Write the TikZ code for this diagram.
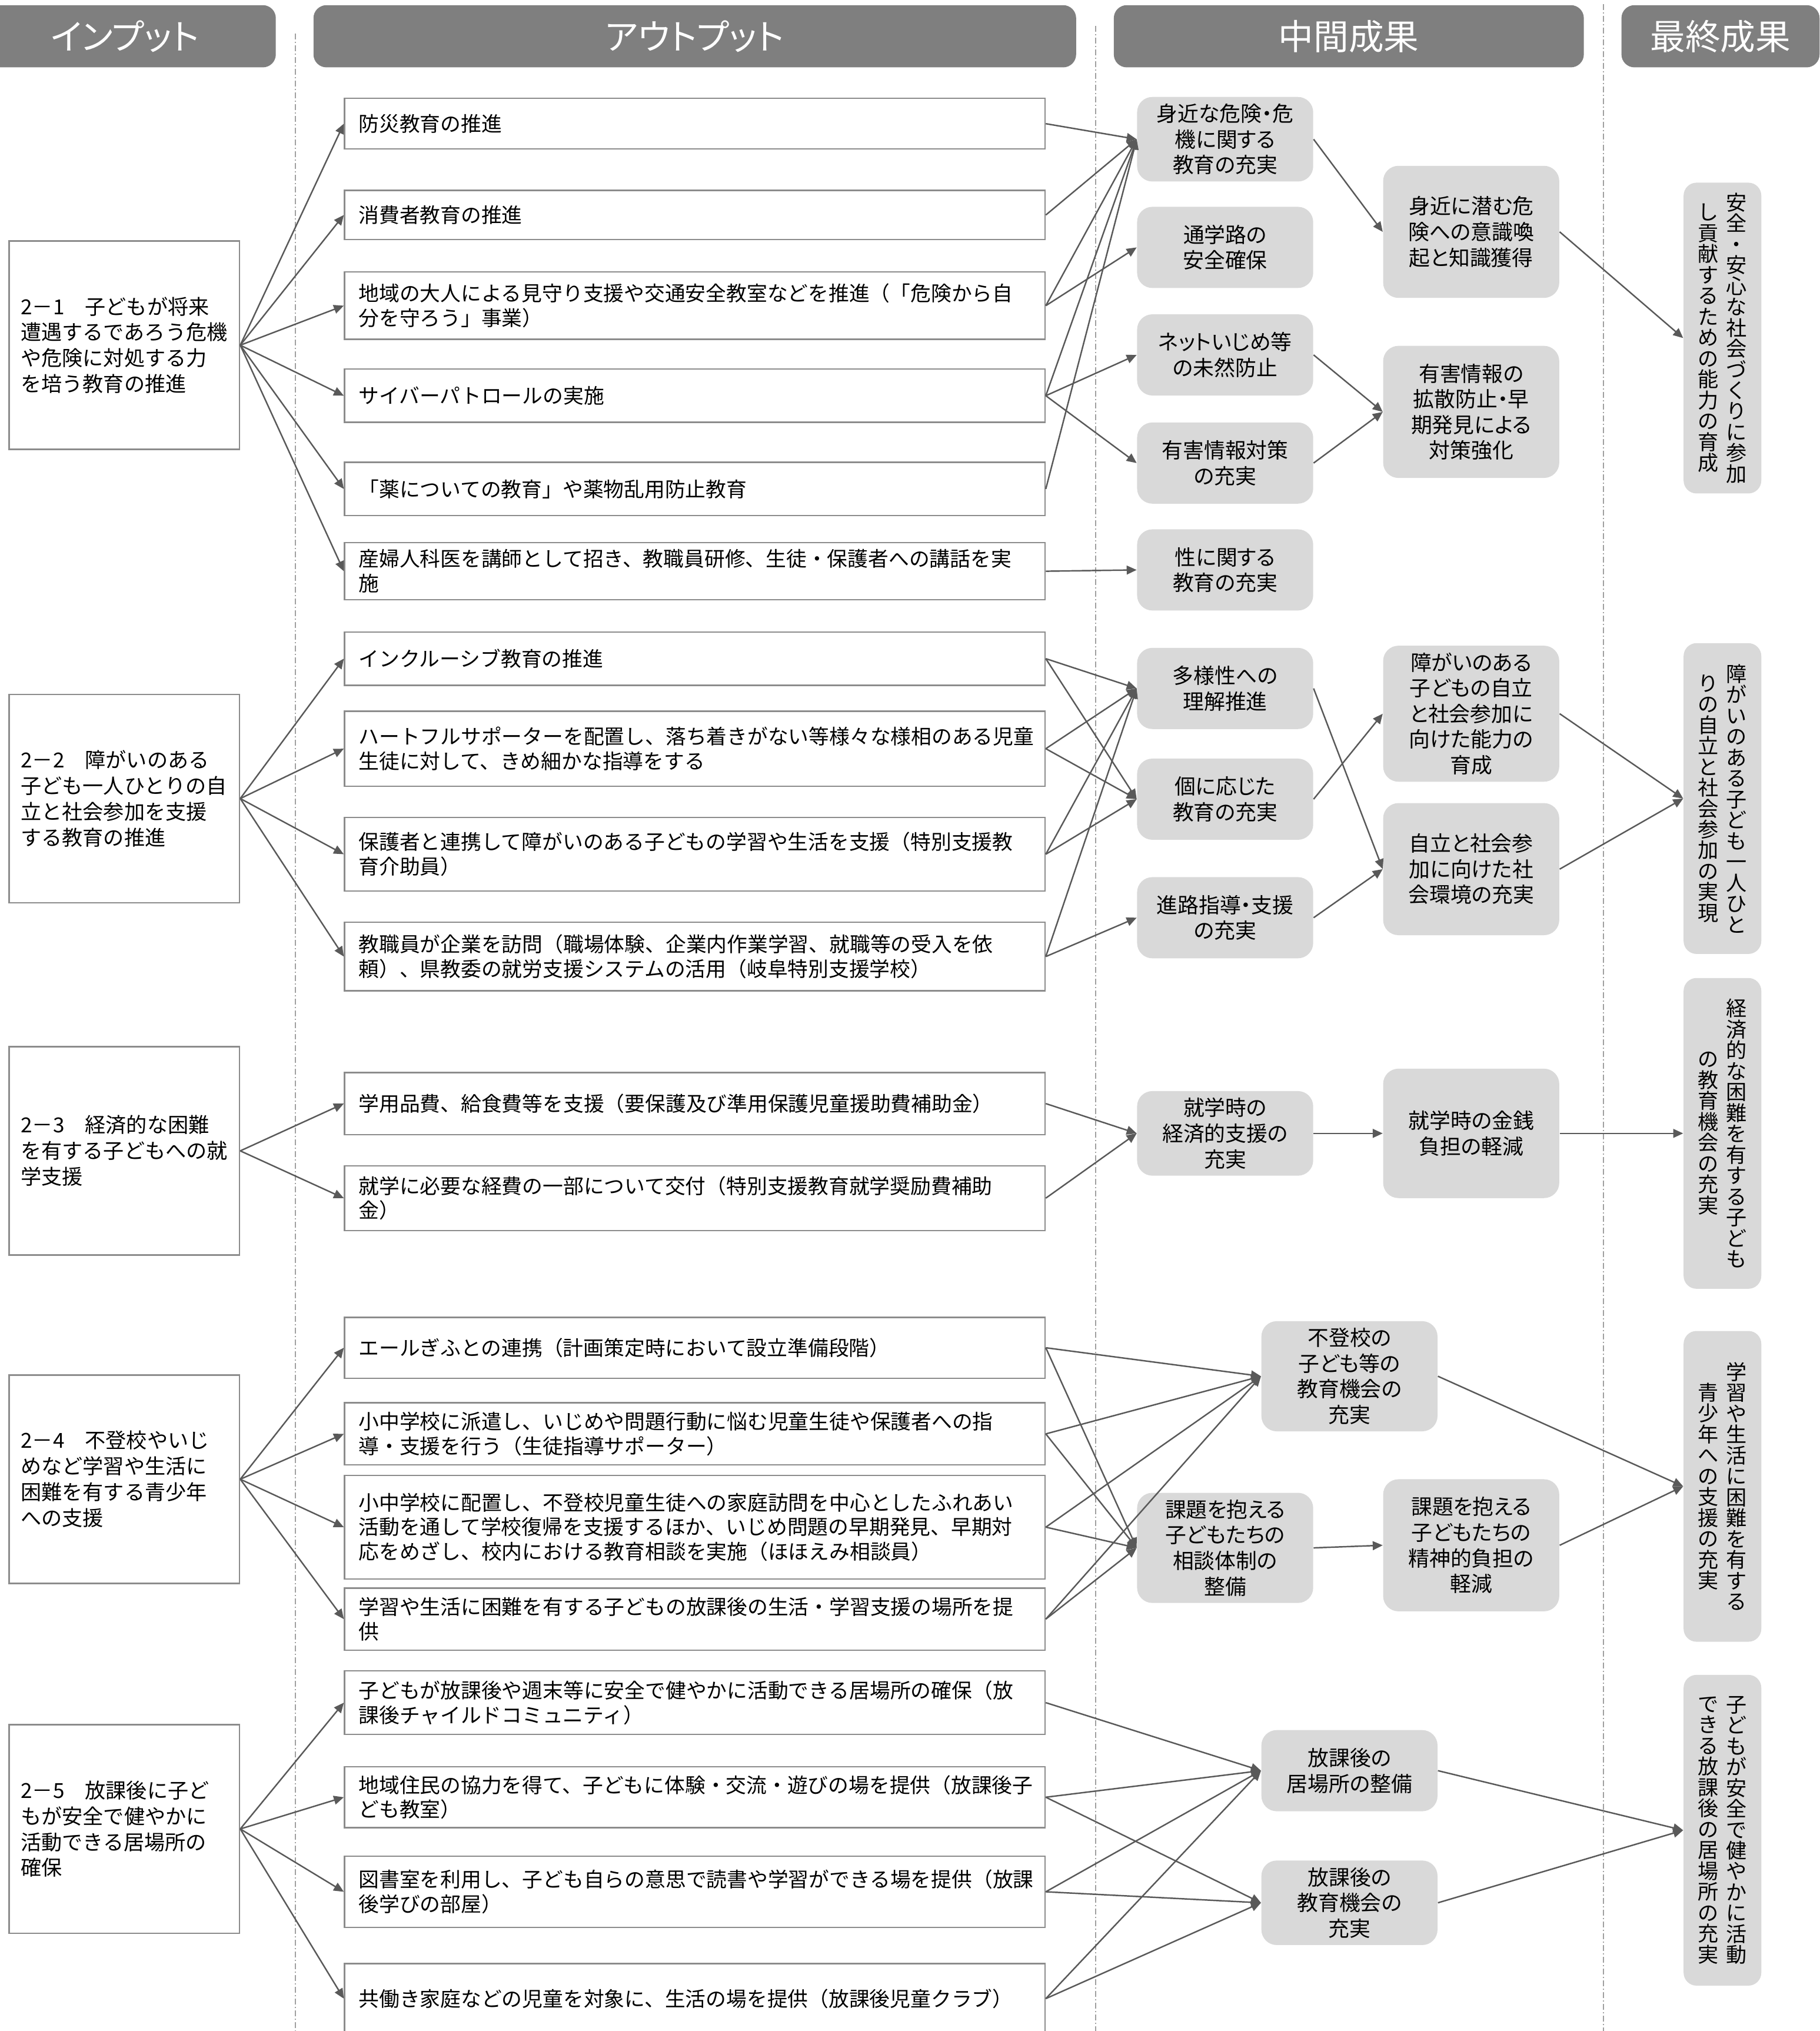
\documentclass[tikz,border=0pt]{standalone}
\usepackage{fontspec}
\setmainfont{Noto Sans CJK JP}
\newfontfamily\propfont[RawFeature=+palt]{Noto Sans CJK JP}
\usepackage{xcolor}
\usetikzlibrary{positioning,arrows.meta}

\definecolor{headgray}{HTML}{7F7F7F}
\definecolor{boxgray}{HTML}{D9D9D9}
\definecolor{linegray}{HTML}{595959}
\definecolor{framegray}{HTML}{8C8C8C}
\definecolor{sepgray}{HTML}{A0A0A0}

\newcommand\tatechars[1]{\ifx\relax#1\else\hbox to 1em{\hss#1\hss}\expandafter\tatechars\fi}
\newcommand\tatecol[1]{$\vcenter{\baselineskip=1.01em\lineskiplimit=-\maxdimen\tatechars#1\relax}$}

\begin{document}
\begin{tikzpicture}[x=0.022014cm, y=-0.022014cm,
  head/.style={fill=headgray, text=white, rounded corners=0.22cm, minimum height=1.057cm, font=\propfont\fontsize{17pt}{20pt}\selectfont},
  inbox/.style={draw=framegray, line width=0.7pt, text width=3.518cm, inner xsep=0.2cm, minimum height=3.544cm, align=left, font=\fontsize{10pt}{12.5pt}\selectfont},
  outbox/.style={draw=framegray, line width=0.7pt, text width=11.43cm, inner xsep=0.24cm, align=left, font=\fontsize{9.9pt}{11.9pt}\selectfont},
  midbox/.style={fill=boxgray, rounded corners=0.26cm, minimum width=2.994cm, minimum height=1.38cm, align=center, font=\propfont\fontsize{10.2pt}{12.4pt}\selectfont},
  endbox/.style={fill=boxgray, rounded corners=0.22cm, minimum width=1.321cm, minimum height=5.283cm, inner sep=0pt, font=\fontsize{10pt}{10pt}\selectfont},
  arr/.style={linegray, line width=0.7pt, -{Triangle[length=1.7mm, width=1.5mm]}},
  sep/.style={sepgray, line width=0.6pt, dash pattern=on 1mm off 0.4mm on 0.2mm off 0.4mm}]

\clip (0,0) rectangle (1405,1568);

\draw[sep] (228,26) -- (228,1568);
\draw[sep] (846,20) -- (846,1568);
\draw[sep] (1238,3) -- (1238,1568);

\node[head, minimum width=5.129cm] (hin) at (96.5,28) {インプット};
\node[head, minimum width=12.966cm] (hout) at (536.5,28) {アウトプット};
\node[head, minimum width=7.991cm] (hmid) at (1041.5,28) {中間成果};
\node[head, minimum width=3.368cm] (hend) at (1328.5,28) {最終成果};

\node[inbox] (in1) at (96,266.5) {2－1　子どもが将来\\遭遇するであろう危機\\や危険に対処する力\\を培う教育の推進};
\node[inbox] (in2) at (96,616.5) {2－2　障がいのある\\子ども一人ひとりの自\\立と社会参加を支援\\する教育の推進};
\node[inbox] (in3) at (96,888.5) {2－3　経済的な困難\\を有する子どもへの就\\学支援};
\node[inbox] (in4) at (96,1142) {2－4　不登校やいじ\\めなど学習や生活に\\困難を有する青少年\\への支援};
\node[inbox] (in5) at (96,1412) {2－5　放課後に子ど\\もが安全で健やかに\\活動できる居場所の\\確保};

\node[outbox, minimum height=0.859cm] (o1) at (536.5,95.5) {防災教育の推進};
\node[outbox, minimum height=0.837cm] (o2) at (536.5,166) {消費者教育の推進};
\node[outbox, minimum height=1.145cm] (o3) at (536.5,236) {地域の大人による見守り支援や交通安全教室などを推進（「危険から自\\分を守ろう」事業）};
\node[outbox, minimum height=0.903cm] (o4) at (536.5,305.5) {サイバーパトロールの実施};
\node[outbox, minimum height=0.903cm] (o5) at (536.5,377.5) {「薬についての教育」や薬物乱用防止教育};
\node[outbox, minimum height=0.925cm] (o6) at (536.5,441) {産婦人科医を講師として招き、教職員研修、生徒・保護者への講話を実\\施};
\node[outbox, minimum height=0.903cm] (o7) at (536.5,508.5) {インクルーシブ教育の推進};
\node[outbox, minimum height=1.277cm] (o8) at (536.5,578) {ハートフルサポーターを配置し、落ち着きがない等様々な様相のある児童\\生徒に対して、きめ細かな指導をする};
\node[outbox, minimum height=1.255cm] (o9) at (536.5,659.5) {保護者と連携して障がいのある子どもの学習や生活を支援（特別支援教\\育介助員）};
\node[outbox, minimum height=1.167cm] (o10) at (536.5,738.5) {教職員が企業を訪問（職場体験、企業内作業学習、就職等の受入を依\\頼）、県教委の就労支援システムの活用（岐阜特別支援学校）};
\node[outbox, minimum height=1.057cm] (o11) at (536.5,852) {学用品費、給食費等を支援（要保護及び準用保護児童援助費補助金）};
\node[outbox, minimum height=1.101cm] (o12) at (536.5,925) {就学に必要な経費の一部について交付（特別支援教育就学奨励費補助\\金）};
\node[outbox, minimum height=1.035cm] (o13) at (536.5,1040.5) {エールぎふとの連携（計画策定時において設立準備段階）};
\node[outbox, minimum height=1.057cm] (o14) at (536.5,1107) {小中学校に派遣し、いじめや問題行動に悩む児童生徒や保護者への指\\導・支援を行う（生徒指導サポーター）};
\node[outbox, minimum height=1.761cm] (o15) at (536.5,1179) {小中学校に配置し、不登校児童生徒への家庭訪問を中心としたふれあい\\活動を通して学校復帰を支援するほか、いじめ問題の早期発見、早期対\\応をめざし、校内における教育相談を実施（ほほえみ相談員）};
\node[outbox, minimum height=1.057cm] (o16) at (536.5,1250) {学習や生活に困難を有する子どもの放課後の生活・学習支援の場所を提\\供};
\node[outbox, minimum height=1.079cm] (o17) at (536.5,1314.5) {子どもが放課後や週末等に安全で健やかに活動できる居場所の確保（放\\課後チャイルドコミュニティ）};
\node[outbox, minimum height=1.035cm] (o18) at (536.5,1387.5) {地域住民の協力を得て、子どもに体験・交流・遊びの場を提供（放課後子\\ども教室）};
\node[outbox, minimum height=1.211cm] (o19) at (536.5,1460.5) {図書室を利用し、子ども自らの意思で読書や学習ができる場を提供（放課\\後学びの部屋）};
\node[outbox, minimum height=1.189cm] (o20) at (536.5,1543) {共働き家庭などの児童を対象に、生活の場を提供（放課後児童クラブ）};

\node[midbox] (a1) at (946,107.5) {身近な危険・危\\機に関する\\教育の充実};
\node[midbox] (a2) at (946,191) {通学路の\\安全確保};
\node[midbox] (a3) at (946,274) {ネットいじめ等\\の未然防止};
\node[midbox] (a4) at (946,357.5) {有害情報対策\\の充実};
\node[midbox] (a5) at (946,440) {性に関する\\教育の充実};
\node[midbox] (a6) at (946,531.5) {多様性への\\理解推進};
\node[midbox] (a7) at (946,617) {個に応じた\\教育の充実};
\node[midbox] (a8) at (946,708.5) {進路指導・支援\\の充実};
\node[midbox, minimum height=1.41cm] (a9) at (946,875) {就学時の\\経済的支援の\\充実};
\node[midbox, minimum height=1.87cm] (a10) at (1042,1062.5) {不登校の\\子ども等の\\教育機会の\\充実};
\node[midbox, minimum height=1.85cm] (a11) at (946,1195) {課題を抱える\\子どもたちの\\相談体制の\\整備};
\node[midbox] (a12) at (1042,1367) {放課後の\\居場所の整備};
\node[midbox] (a13) at (1042,1469) {放課後の\\教育機会の\\充実};

\node[midbox, minimum height=2.245cm] (b1) at (1136,179) {身近に潜む危\\険への意識喚\\起と知識獲得};
\node[midbox, minimum height=2.245cm] (b2) at (1136,318) {有害情報の\\拡散防止・早\\期発見による\\対策強化};
\node[midbox, minimum height=2.245cm] (b3) at (1136,551) {障がいのある\\子どもの自立\\と社会参加に\\向けた能力の\\育成};
\node[midbox, minimum height=2.245cm] (b4) at (1136,671) {自立と社会参\\加に向けた社\\会環境の充実};
\node[midbox, minimum height=2.2cm] (b5) at (1136,875) {就学時の金銭\\負担の軽減};
\node[midbox, minimum height=2.245cm] (b6) at (1136,1193) {課題を抱える\\子どもたちの\\精神的負担の\\軽減};

\node[endbox] (f1) at (1330,261) {\tatecol{し貢献するための能力の育成}\hspace{3.8pt}\tatecol{安全・安心な社会づくりに参加}};
\node[endbox] (f2) at (1330,616.5) {\tatecol{りの自立と社会参加の実現}\hspace{3.8pt}\tatecol{障がいのある子ども一人ひと}};
\node[endbox] (f3) at (1330,875) {\tatecol{の教育機会の充実}\hspace{3.8pt}\tatecol{経済的な困難を有する子ども}};
\node[endbox] (f4) at (1330,1147.5) {\tatecol{青少年への支援の充実}\hspace{3.8pt}\tatecol{学習や生活に困難を有する}};
\node[endbox] (f5) at (1330,1413) {\tatecol{できる放課後の居場所の充実}\hspace{3.8pt}\tatecol{子どもが安全で健やかに活動}};

\draw[arr] (in1.east) -- (o1.west);
\draw[arr] (in1.east) -- (o2.west);
\draw[arr] (in1.east) -- (o3.west);
\draw[arr] (in1.east) -- (o4.west);
\draw[arr] (in1.east) -- (o5.west);
\draw[arr] (in1.east) -- (o6.west);
\draw[arr] (in2.east) -- (o7.west);
\draw[arr] (in2.east) -- (o8.west);
\draw[arr] (in2.east) -- (o9.west);
\draw[arr] (in2.east) -- (o10.west);
\draw[arr] (in3.east) -- (o11.west);
\draw[arr] (in3.east) -- (o12.west);
\draw[arr] (in4.east) -- (o13.west);
\draw[arr] (in4.east) -- (o14.west);
\draw[arr] (in4.east) -- (o15.west);
\draw[arr] (in4.east) -- (o16.west);
\draw[arr] (in5.east) -- (o17.west);
\draw[arr] (in5.east) -- (o18.west);
\draw[arr] (in5.east) -- (o19.west);
\draw[arr] (in5.east) -- (o20.west);

\draw[arr] (o1.east) -- (a1.west);
\draw[arr] (o2.east) -- (a1.west);
\draw[arr] (o3.east) -- (a1.west);
\draw[arr] (o3.east) -- (a2.west);
\draw[arr] (o4.east) -- (a1.west);
\draw[arr] (o4.east) -- (a3.west);
\draw[arr] (o4.east) -- (a4.west);
\draw[arr] (o5.east) -- (a1.west);
\draw[arr] (o6.east) -- (a5.west);
\draw[arr] (a1.east) -- (b1.west);
\draw[arr] (a3.east) -- (b2.west);
\draw[arr] (a4.east) -- (b2.west);
\draw[arr] (b1.east) -- (f1.west);

\draw[arr] (o7.east) -- (a6.west);
\draw[arr] (o7.east) -- (a7.west);
\draw[arr] (o8.east) -- (a6.west);
\draw[arr] (o8.east) -- (a7.west);
\draw[arr] (o9.east) -- (a6.west);
\draw[arr] (o9.east) -- (a7.west);
\draw[arr] (o10.east) -- (a6.west);
\draw[arr] (o10.east) -- (a8.west);
\draw[arr] (a6.east) -- (b4.west);
\draw[arr] (a7.east) -- (b3.west);
\draw[arr] (a8.east) -- (b4.west);
\draw[arr] (b3.east) -- (f2.west);
\draw[arr] (b4.east) -- (f2.west);

\draw[arr] (o11.east) -- (a9.west);
\draw[arr] (o12.east) -- (a9.west);
\draw[arr] (a9.east) -- (b5.west);
\draw[arr] (b5.east) -- (f3.west);

\draw[arr] (o13.east) -- (a10.west);
\draw[arr] (o13.east) -- (a11.west);
\draw[arr] (o14.east) -- (a10.west);
\draw[arr] (o14.east) -- (a11.west);
\draw[arr] (o15.east) -- (a10.west);
\draw[arr] (o15.east) -- (a11.west);
\draw[arr] (o16.east) -- (a10.west);
\draw[arr] (o16.east) -- (a11.west);
\draw[arr] (a11.east) -- (b6.west);
\draw[arr] (a10.east) -- (f4.west);
\draw[arr] (b6.east) -- (f4.west);

\draw[arr] (o17.east) -- (a12.west);
\draw[arr] (o18.east) -- (a12.west);
\draw[arr] (o18.east) -- (a13.west);
\draw[arr] (o19.east) -- (a12.west);
\draw[arr] (o19.east) -- (a13.west);
\draw[arr] (o20.east) -- (a12.west);
\draw[arr] (o20.east) -- (a13.west);
\draw[arr] (a12.east) -- (f5.west);
\draw[arr] (a13.east) -- (f5.west);

\end{tikzpicture}
\end{document}
